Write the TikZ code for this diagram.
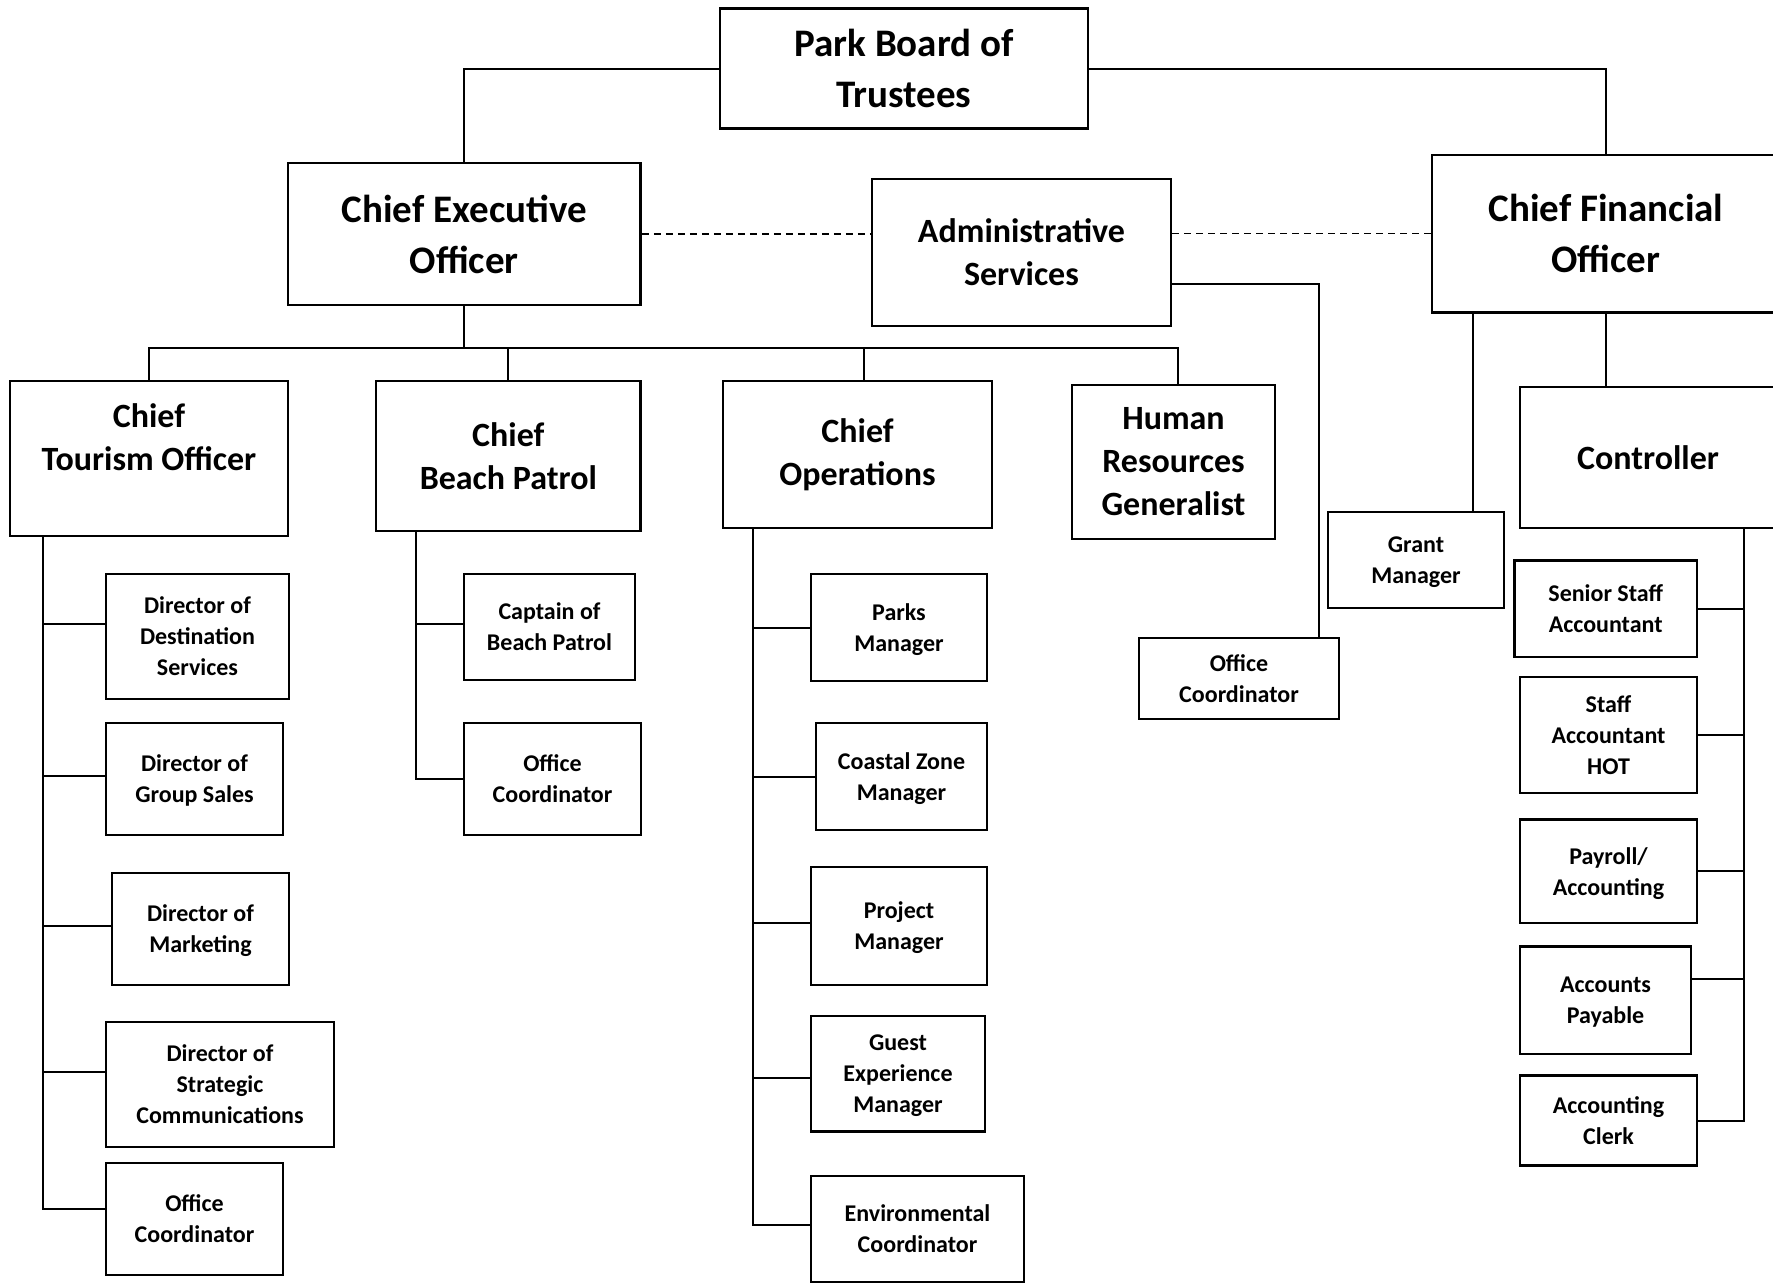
\documentclass[tikz,border=0pt]{standalone}
\usepackage{fontspec}
\setmainfont{Carlito}
\tikzset{
  box/.style={draw,line width=2.3pt,inner sep=0pt,align=center},
  bigbox/.style={box,font=\fontsize{39}{51}\selectfont\bfseries},
  midbox/.style={box,font=\fontsize{34}{43}\selectfont\bfseries},
  subbox/.style={box,text depth=0pt,font=\fontsize{24}{31}\selectfont\bfseries},
  link/.style={line width=2pt},
  dashlink/.style={line width=1.3pt,dash pattern=on 7pt off 5pt}
}
\begin{document}
\begin{tikzpicture}[x=1pt,y=-1pt]
  \useasboundingbox (0,0) rectangle (1773,1283);
  \fill[white] (0,0) rectangle (1773,1283);
  \clip (0,0) rectangle (1773,1283);

  \node[bigbox,minimum width=368,minimum height=120] (park) at (904,68.6) {Park Board of\\Trustees};
  \node[bigbox,minimum width=352.6,minimum height=142] (ceo) at (464.3,234) {Chief Executive\\Officer};
  \node[midbox,minimum width=299,minimum height=147] (admin) at (1021.5,252.5) {Administrative\\Services};
  \node[bigbox,minimum width=348,minimum height=157.5] (cfo) at (1606,233.7) {Chief Financial\\Officer};

  \node[midbox,minimum width=278,minimum height=155] (cto) at (149,458.5) {Chief\\Tourism Officer\\\mbox{}};
  \node[midbox,minimum width=264.6,minimum height=150] (beach) at (508.3,456) {Chief\\Beach Patrol};
  \node[midbox,minimum width=269,minimum height=147] (ops) at (857.5,454.5) {Chief\\Operations};
  \node[midbox,minimum width=203,minimum height=154] (hr) at (1173.5,462) {Human\\Resources\\Generalist};
  \node[midbox,minimum width=256,minimum height=141] (ctrl) at (1648,457.5) {Controller};

  \node[subbox,minimum width=183,minimum height=125] (dest) at (197.5,636.5) {Director of\\Destination\\Services};
  \node[subbox,minimum width=177,minimum height=112] (grp) at (194.5,779) {Director of\\Group Sales};
  \node[subbox,minimum width=177,minimum height=112] (mkt) at (200.5,929) {Director of\\Marketing};
  \node[subbox,minimum width=228,minimum height=125] (strat) at (220,1084.5) {Director of\\Strategic\\Communications};
  \node[subbox,minimum width=177,minimum height=112] (oft) at (194.5,1219) {Office\\Coordinator};

  \node[subbox,minimum width=171,minimum height=106] (capt) at (549.5,627) {Captain of\\Beach Patrol};
  \node[subbox,minimum width=177,minimum height=112] (ofb) at (552.5,779) {Office\\Coordinator};

  \node[subbox,minimum width=176.5,minimum height=107] (parks) at (899,627.5) {Parks\\Manager};
  \node[subbox,minimum width=171,minimum height=107] (coast) at (901.5,776.5) {Coastal Zone\\Manager};
  \node[subbox,minimum width=176,minimum height=118] (proj) at (899,926) {Project\\Manager};
  \node[subbox,minimum width=174,minimum height=115.5] (guest) at (898,1073.8) {Guest\\Experience\\Manager};
  \node[subbox,minimum width=213,minimum height=105.5] (env) at (917.5,1229) {Environmental\\Coordinator};

  \node[subbox,minimum width=200,minimum height=81] (ofa) at (1239,678.5) {Office\\Coordinator};
  \node[subbox,minimum width=176,minimum height=96] (grant) at (1416,560) {Grant\\Manager};
  \node[subbox,minimum width=182.5,minimum height=96.5] (ssa) at (1605.7,608.7) {Senior Staff\\Accountant};
  \node[subbox,minimum width=177,minimum height=115.5] (hot) at (1608.5,735) {Staff\\Accountant\\HOT};
  \node[subbox,minimum width=177,minimum height=103.4] (pay) at (1608.5,871.3) {Payroll/\\Accounting};
  \node[subbox,minimum width=171,minimum height=107.4] (ap) at (1605.5,1000.3) {Accounts\\Payable};
  \node[subbox,minimum width=177,minimum height=90] (clerk) at (1608.5,1120.5) {Accounting\\Clerk};

  \draw[link] (park.west) -| (ceo.north);
  \draw[link] (park.east) -| (cfo.north);
  \draw[dashlink] (ceo.east) -- (ceo.east -| admin.west);
  \draw[dashlink] (admin.east |- cfo.west) -- (cfo.west);
  \draw[link] ([yshift=43]admin.south east) -| ([xshift=-21]ofa.north east);

  \coordinate (bus) at ([yshift=-42]ceo.south);
  \coordinate (opsdrop) at ([xshift=6.5]ops.north);
  \coordinate (hrdrop) at ([xshift=4.5]hr.north);
  \draw[link] (ceo.south) -- (bus);
  \draw[link] (cto.north) |- (bus) -| (hrdrop);
  \draw[link] (beach.north) -- (beach.north |- bus);
  \draw[link] (opsdrop) -- (opsdrop |- bus);

  \coordinate (gm) at ([xshift=-32]grant.north east);
  \draw[link] (cfo.south) -- (cfo.south |- ctrl.north);
  \draw[link] (gm) -- (gm |- cfo.south);

  \coordinate (ts) at ([xshift=-106]cto.south);
  \foreach \n/\d in {dest/12.5,grp/3.5,mkt/3,strat/12.5}{
    \coordinate (p) at ([yshift=\d]\n.west);
    \draw[link] (p) -- (p -| ts);
  }
  \draw[link] (ts) |- ([yshift=10]oft.west);

  \coordinate (bs) at ([xshift=-92]beach.south);
  \coordinate (p) at ([yshift=3]capt.west);
  \draw[link] (p) -- (p -| bs);
  \draw[link] (bs) |- (ofb.west);

  \coordinate (os) at ([xshift=-105]ops.south);
  \foreach \n/\d in {parks/0,coast/0,proj/3,guest/-4}{
    \coordinate (p) at ([yshift=\d]\n.west);
    \draw[link] (p) -- (p -| os);
  }
  \draw[link] (os) |- ([yshift=4]env.west);

  \coordinate (cs) at ([xshift=96]ctrl.south);
  \foreach \n/\d in {ssa/0,hot/0,pay/0,ap/21}{
    \coordinate (p) at ([yshift=\d]\n.east);
    \draw[link] (p) -- (p -| cs);
  }
  \draw[link] (cs) |- (clerk.east);
\end{tikzpicture}
\end{document}
